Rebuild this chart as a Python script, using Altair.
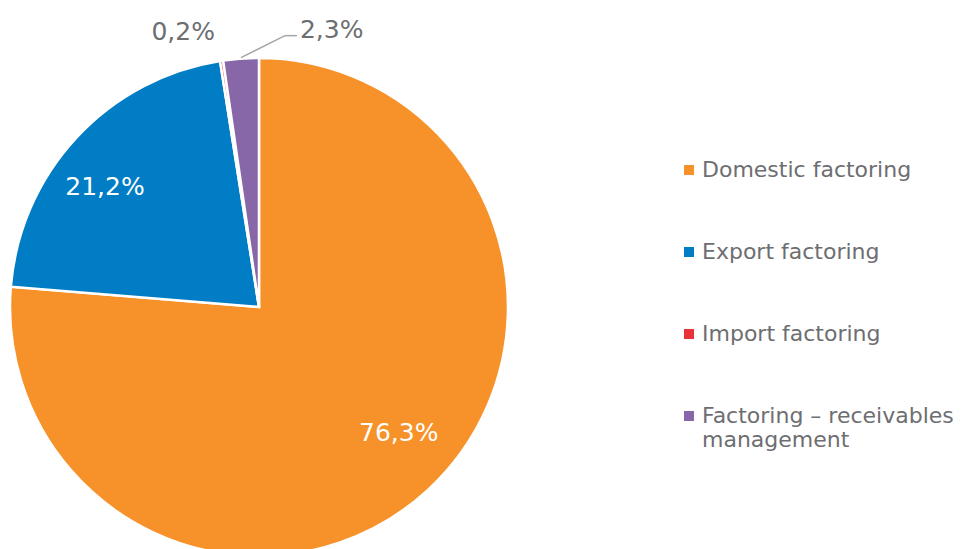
import altair as alt
import pandas as pd

categories = ["Domestic factoring", "Export factoring", "Import factoring",
              "Factoring – receivables management"]
shares = [76.3, 21.2, 0.2, 2.3]
labels = ["76,3%", "21,2%", "0,2%", "2,3%"]
colors = ["#F7922A", "#007DC5", "#E8333A", "#8867A8"]

df = pd.DataFrame({"category": categories, "share": shares,
                   "label": labels, "order": list(range(len(categories)))})

CX, CY, R = 251, 299, 249
FONT = "DejaVu Sans"
GREY = "#6d6e71"

base = alt.Chart(df).transform_window(
    cum="sum(share)", frame=[None, 0], sort=[{"field": "order"}]
).transform_joinaggregate(total="sum(share)").transform_calculate(
    mid="(datum.cum - datum.share/2)/datum.total*2*PI"
)

arc = alt.Chart(df).mark_arc(radius=R, stroke="white", strokeWidth=2.5).encode(
    theta=alt.Theta("share:Q", stack=True),
    order=alt.Order("order:Q"),
    color=alt.Color(
        "category:N",
        sort=categories,
        scale=alt.Scale(domain=categories, range=colors),
        legend=alt.Legend(
            title=None, orient="none", legendX=670, legendY=151,
            symbolType="square", symbolSize=100, symbolStrokeWidth=0,
            labelFont=FONT, labelFontSize=22, labelColor=GREY,
            labelOffset=2, rowPadding=60, labelLimit=400, padding=0,
            labelExpr="datum.label == 'Factoring – receivables management' ? ['Factoring – receivables', 'management'] : datum.label",
        ),
    ),
    x=alt.value(CX), y=alt.value(CY),
)


def label_layer(lbl, r, dx, dy, color, align="center"):
    return base.transform_filter(alt.datum.label == lbl).transform_calculate(
        px=f"{CX} + {r}*sin(datum.mid)",
        py=f"{CY} - {r}*cos(datum.mid)",
    ).mark_text(font=FONT, fontSize=25, color=color, dx=dx, dy=dy,
                align=align, baseline="middle").encode(
        x=alt.X("px:Q", scale=None, axis=None),
        y=alt.Y("py:Q", scale=None, axis=None),
        text="label:N",
    )


t1 = label_layer("76,3%", 187, 13, -12, "white")
t2 = label_layer("21,2%", 195, -11, 13, "white")
t3 = label_layer("0,2%", 285, -33, 7, GREY)

lead = base.transform_filter(alt.datum.label == "2,3%").transform_calculate(
    x0=f"{CX} + {R + 1}*sin(datum.mid)",
    y0=f"{CY} - {R + 1}*cos(datum.mid)",
).transform_calculate(
    x1="datum.x0 + 44", y1="datum.y0 - 22",
).transform_calculate(
    x2="datum.x1 + 12",
)

rule1 = lead.mark_rule(color="#a6a6a6", strokeWidth=1.5).encode(
    x=alt.X("x0:Q", scale=None, axis=None), y=alt.Y("y0:Q", scale=None, axis=None),
    x2="x1:Q", y2="y1:Q",
)
rule2 = lead.mark_rule(color="#a6a6a6", strokeWidth=1.5).encode(
    x=alt.X("x1:Q", scale=None, axis=None), y=alt.Y("y1:Q", scale=None, axis=None),
    x2="x2:Q",
)
t4 = lead.mark_text(font=FONT, fontSize=25, color=GREY, dx=3, dy=-6,
                    align="left", baseline="middle").encode(
    x=alt.X("x2:Q", scale=None, axis=None),
    y=alt.Y("y1:Q", scale=None, axis=None),
    text="label:N",
)

chart = alt.layer(arc, t1, t2, t3, rule1, rule2, t4).properties(
    width=955, height=541, padding=0, autosize=alt.AutoSizeParams(type="none"),
    background="white",
).configure_view(stroke=None)

chart.save("out.html", embed_options={"renderer": "svg", "actions": False})
